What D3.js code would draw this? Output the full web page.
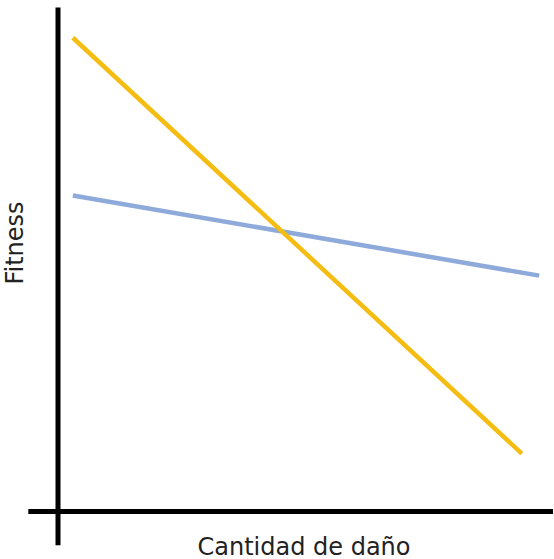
<!DOCTYPE html>
<html>
<head>
<meta charset="utf-8">
<script src="https://cdn.jsdelivr.net/npm/d3@7"></script>
<style>
  body { margin: 0; background: #fff; }
  text { font-family: "DejaVu Sans", Verdana, sans-serif; fill: #222; }
</style>
</head>
<body>
<svg id="svg" width="554" height="559"></svg>
<script>
// conceptual values, 0..100 on both axes
var damage = [3.0, 93.7];
var fitnessA = [94.0, 11.5];   // gold line
var damageB = [3.0, 97.2];
var fitnessB = [62.7, 46.8];   // blue line

var xLabel = "Cantidad de daño",
	yLabel = "Fitness";

var svg = d3.select("svg"),
	width = +svg.attr("width"),
	height = +svg.attr("height");

var x = d3.scaleLinear().domain([0, 100]).range([58, 553]);
var y = d3.scaleLinear().domain([0, 100]).range([511.5, 7.5]);

var line = d3.line()
	.x(function (d) { return x(d[0]); })
	.y(function (d) { return y(d[1]); });

// axes (plain lines, no ticks)
svg.append("line")
	.attr("x1", x(-6)).attr("x2", x(100))
	.attr("y1", y(0)).attr("y2", y(0))
	.style("stroke", "#000").style("stroke-width", 5);

svg.append("line")
	.attr("x1", x(0)).attr("x2", x(0))
	.attr("y1", y(100)).attr("y2", y(-6.7))
	.style("stroke", "#000").style("stroke-width", 5);

svg.append("path")
	.datum(d3.zip(damageB, fitnessB))
	.attr("d", line)
	.style("fill", "none")
	.style("stroke", "#8eaadb")
	.style("stroke-width", 4.5);

svg.append("path")
	.datum(d3.zip(damage, fitnessA))
	.attr("d", line)
	.style("fill", "none")
	.style("stroke", "#f5bd12")
	.style("stroke-width", 4.5);

svg.append("text")
	.attr("x", 304)
	.attr("y", 555)
	.attr("text-anchor", "middle")
	.style("font-size", "24px")
	.text(xLabel);

svg.append("text")
	.attr("transform", "translate(23,243) rotate(-90)")
	.attr("text-anchor", "middle")
	.style("font-size", "24px")
	.text(yLabel);
</script>
</body>
</html>
